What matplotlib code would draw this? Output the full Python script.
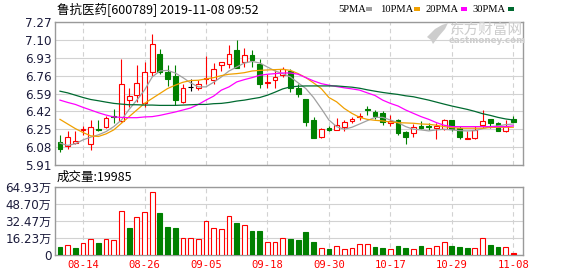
import matplotlib
matplotlib.use('Agg')
import matplotlib.pyplot as plt
from matplotlib.patches import Rectangle, Polygon
import numpy as np

plt.rcParams['font.family'] = ['DejaVu Sans', 'Noto Sans CJK SC']

# ---------------- data ----------------
dates = ['08-09', '08-12', '08-13', '08-14', '08-15', '08-16', '08-19', '08-20', '08-21', '08-22',
         '08-23', '08-26', '08-27', '08-28', '08-29', '08-30', '09-02', '09-03', '09-04', '09-05',
         '09-06', '09-09', '09-10', '09-11', '09-12', '09-16', '09-17', '09-18', '09-19', '09-20',
         '09-23', '09-24', '09-25', '09-26', '09-27', '09-30', '10-08', '10-09', '10-10', '10-11',
         '10-14', '10-15', '10-16', '10-17', '10-18', '10-21', '10-22', '10-23', '10-24', '10-25',
         '10-28', '10-29', '10-30', '10-31', '11-01', '11-04', '11-05', '11-06', '11-07', '11-08']

opens = [6.13, 6.09, 6.12, 6.24, 6.11, 6.25, 6.27, 6.38, 6.33, 6.53,
         6.58, 6.50, 6.79, 6.97, 6.79, 6.76, 6.51, 6.65, 6.64, 6.73,
         6.72, 6.86, 6.87, 7.00, 6.89, 6.96, 6.87, 6.69, 6.72, 6.77,
         6.80, 6.64, 6.54, 6.34, 6.18, 6.26, 6.24, 6.27, 6.33, 6.37,
         6.44, 6.41, 6.40, 6.31, 6.34, 6.22, 6.21, 6.28, 6.28, 6.26,
         6.25, 6.34, 6.26, 6.16, 6.17, 6.29, 6.35, 6.31, 6.23, 6.35]
highs = [6.20, 6.23, 6.23, 6.28, 6.34, 6.34, 6.38, 6.44, 6.92, 6.64,
         6.86, 6.89, 7.16, 7.01, 6.86, 6.86, 6.68, 6.73, 6.72, 6.95,
         6.88, 6.89, 7.05, 7.10, 7.02, 7.00, 6.92, 6.78, 6.81, 6.84,
         6.82, 6.68, 6.54, 6.37, 6.26, 6.28, 6.36, 6.34, 6.37, 6.40,
         6.47, 6.43, 6.42, 6.39, 6.35, 6.23, 6.30, 6.33, 6.31, 6.31,
         6.35, 6.34, 6.28, 6.23, 6.28, 6.43, 6.35, 6.32, 6.34, 6.38]
lows = [6.03, 6.06, 6.11, 6.20, 6.05, 6.23, 6.26, 6.31, 6.32, 6.46,
        6.51, 6.46, 6.76, 6.78, 6.66, 6.48, 6.50, 6.61, 6.62, 6.68,
        6.68, 6.80, 6.83, 6.83, 6.84, 6.84, 6.64, 6.64, 6.64, 6.75,
        6.60, 6.56, 6.28, 6.17, 6.17, 6.23, 6.24, 6.23, 6.31, 6.34,
        6.39, 6.35, 6.29, 6.28, 6.20, 6.11, 6.18, 6.25, 6.24, 6.16,
        6.24, 6.23, 6.16, 6.16, 6.16, 6.26, 6.26, 6.23, 6.22, 6.32]
closes = [6.06, 6.18, 6.14, 6.25, 6.27, 6.24, 6.36, 6.37, 6.68, 6.57,
          6.69, 6.79, 7.06, 6.79, 6.73, 6.53, 6.64, 6.65, 6.68, 6.74,
          6.82, 6.89, 6.97, 6.83, 6.96, 6.91, 6.68, 6.70, 6.75, 6.82,
          6.64, 6.59, 6.32, 6.17, 6.25, 6.24, 6.29, 6.32, 6.35, 6.38,
          6.43, 6.38, 6.32, 6.33, 6.21, 6.18, 6.27, 6.26, 6.27, 6.28,
          6.34, 6.25, 6.18, 6.17, 6.24, 6.33, 6.31, 6.23, 6.28, 6.32]

volumes = [7.3, 9.2, 6.6, 11.1, 14.9, 11.4, 14.9, 14.2, 42.3, 25.6,
           36.7, 41.4, 60.4, 39.8, 26.5, 25.6, 15.8, 15.8, 14.9, 32.9,
           26.2, 25.3, 37.6, 30.3, 29.1, 22.8, 22.8, 12.3, 12.3, 16.7,
           15.2, 14.2, 21.8, 12.3, 6.3, 5.4, 8.2, 5.4, 6.3, 10.1,
           10.1, 7.6, 6.6, 5.4, 8.5, 6.6, 5.4, 8.5, 6.3, 8.5,
           12.3, 8.5, 7.6, 6.6, 6.6, 16.7, 9.5, 7.6, 7.6, 2.0]  # 万

ma5 = [6.118, 6.096, 6.112, 6.149, 6.175, 6.197, 6.228, 6.275, 6.338, 6.439,
       6.527, 6.622, 6.747, 6.804, 6.810, 6.785, 6.741, 6.691, 6.653, 6.653,
       6.697, 6.747, 6.804, 6.842, 6.880, 6.895, 6.880, 6.842, 6.804, 6.779,
       6.747, 6.691, 6.637, 6.552, 6.448, 6.338, 6.275, 6.250, 6.269, 6.300,
       6.332, 6.363, 6.363, 6.338, 6.313, 6.275, 6.250, 6.244, 6.234, 6.244,
       6.250, 6.244, 6.237, 6.234, 6.237, 6.256, 6.275, 6.282, 6.294, 6.300]
ma10 = [6.344, 6.300, 6.256, 6.219, 6.187, 6.181, 6.206, 6.244, 6.307, 6.370,
        6.433, 6.496, 6.543, 6.590, 6.637, 6.669, 6.697, 6.713, 6.716, 6.729,
        6.741, 6.760, 6.773, 6.779, 6.788, 6.804, 6.810, 6.814, 6.817, 6.820,
        6.810, 6.779, 6.741, 6.691, 6.637, 6.552, 6.511, 6.448, 6.401, 6.363,
        6.344, 6.335, 6.329, 6.319, 6.313, 6.310, 6.307, 6.300, 6.297, 6.288,
        6.275, 6.266, 6.260, 6.260, 6.260, 6.260, 6.266, 6.269, 6.269, 6.269]
ma20 = [6.527, 6.505, 6.486, 6.458, 6.433, 6.407, 6.385, 6.367, 6.363, 6.360,
        6.360, 6.367, 6.370, 6.382, 6.398, 6.414, 6.433, 6.452, 6.486, 6.527,
        6.565, 6.622, 6.653, 6.700, 6.722, 6.741, 6.763, 6.773, 6.779, 6.785,
        6.785, 6.773, 6.741, 6.710, 6.684, 6.669, 6.656, 6.644, 6.634, 6.622,
        6.596, 6.571, 6.527, 6.496, 6.471, 6.433, 6.401, 6.370, 6.344, 6.313,
        6.288, 6.275, 6.275, 6.275, 6.275, 6.275, 6.275, 6.275, 6.275, 6.282]
ma30 = [6.612, 6.596, 6.574, 6.552, 6.533, 6.521, 6.508, 6.496, 6.489, 6.483,
        6.483, 6.480, 6.480, 6.477, 6.477, 6.477, 6.480, 6.483, 6.486, 6.486,
        6.493, 6.496, 6.505, 6.518, 6.527, 6.540, 6.552, 6.574, 6.603, 6.634,
        6.653, 6.659, 6.662, 6.662, 6.662, 6.662, 6.662, 6.656, 6.650, 6.640,
        6.625, 6.612, 6.600, 6.590, 6.581, 6.568, 6.559, 6.543, 6.527, 6.508,
        6.489, 6.471, 6.455, 6.439, 6.420, 6.398, 6.382, 6.363, 6.348, 6.338]

price_ticks = [5.91, 6.08, 6.25, 6.42, 6.59, 6.76, 6.93, 7.10, 7.27]
vol_ticks = [0, 16.23, 32.47, 48.70, 64.93]
vol_tick_labels = ['0', '16.23万', '32.47万', '48.70万', '64.93万']
tick_dates = ['08-14', '08-26', '09-05', '09-18', '09-30', '10-17', '10-29', '11-08']

title_text = '鲁抗医药[600789] 2019-11-08 09:52'
vol_title = '成交量:19985'
ma_labels = ['5PMA', '10PMA', '20PMA', '30PMA']

# ---------------- style ----------------
RED = '#ff0000'
GREEN = '#008000'
MA_COLORS = ['#a0a0a0', '#f0a000', '#ff00ff', '#006a30']
SPINE = '#9a9a9a'
GRID = '#d2d2d2'
LABEL = '#1c1c3c'
WM = '#cdcdcd'

W, H = 578, 276
fig = plt.figure(figsize=(W / 100, H / 100), dpi=100)
L, R = 55, 522.5
ax = fig.add_axes([L / W, 1 - 165 / H, (R - L) / W, (165 - 22) / H])
axv = fig.add_axes([L / W, 1 - 255 / H, (R - L) / W, (255 - 187) / H])

n = len(dates)
x = np.arange(n)
o = np.array(opens); c = np.array(closes); hi = np.array(highs); lo = np.array(lows)
tick_pos = [dates.index(d) for d in tick_dates]

cols = [RED if cc > oo else (GREEN if cc < oo else 'black') for oo, cc in zip(o, c)]
faces = ['white' if cc > oo else col for oo, cc, col in zip(o, c, cols)]

# watermark (behind the data)
fig.text(487 / W, 1 - 29.5 / H, '东方财富网', family=['Noto Sans CJK SC'], fontsize=10.5,
         color=WM, ha='center', va='center', zorder=0)
fig.text(487 / W, 1 - 40.5 / H, 'eastmoney.com', family='DejaVu Sans', fontsize=6.3,
         fontweight='bold', color=WM, ha='center', va='center', zorder=0)
logo = [(427, 37), (435, 29), (442, 25), (448, 23), (445, 29), (439, 36), (433, 44), (431, 40)]
fig.patches.append(Polygon([(px / W, 1 - py / H) for px, py in logo], closed=True,
                           transform=fig.transFigure, facecolor=WM, edgecolor='none',
                           figure=fig, zorder=0))
ax.patch.set_alpha(0)

# candles
ax.vlines(x, lo, hi, colors=cols, linewidth=0.8, zorder=3)
ax.bar(x, np.abs(c - o), bottom=np.minimum(o, c), width=0.62, color=faces,
       edgecolor=cols, linewidth=0.8, zorder=4)

for ma, col in zip([ma5, ma10, ma20, ma30], MA_COLORS):
    ax.plot(x, ma, color=col, linewidth=0.9, zorder=5)

ax.set_xlim(-0.65, 60.2)
ax.set_ylim(price_ticks[0], price_ticks[-1])
ax.set_yticks(price_ticks)
ax.set_yticklabels([f'{t:.2f}' for t in price_ticks])
ax.set_xticks(tick_pos)
ax.set_xticklabels([])

# volume
vol_up = [c[0] >= o[0]] + [c[i] > c[i - 1] for i in range(1, n)]
vcols = [RED if u else GREEN for u in vol_up]
vfaces = ['white' if u else GREEN for u in vol_up]
vfaces[-1] = vcols[-1]
axv.bar(x, volumes, width=0.62, color=vfaces, edgecolor=vcols, linewidth=0.8, zorder=3)
axv.set_xlim(-0.65, 60.2)
axv.set_ylim(vol_ticks[0], vol_ticks[-1])
axv.set_yticks(vol_ticks)
axv.set_yticklabels(vol_tick_labels)
axv.set_xticks(tick_pos)
axv.set_xticklabels(tick_dates, color=RED, family='DejaVu Sans Mono', fontsize=7.6)

for a in (ax, axv):
    a.tick_params(axis='both', length=0, pad=2.5)
    a.tick_params(axis='y', labelsize=8.6, labelcolor=LABEL)
    a.yaxis.grid(True, color=GRID, linewidth=0.8, linestyle='-', zorder=0)
    a.xaxis.grid(True, color=GRID, linewidth=0.8, linestyle=(0, (4, 3)), zorder=0)
    a.set_axisbelow(True)
    for s in a.spines.values():
        s.set_color(SPINE)
        s.set_linewidth(1.0)
axv.tick_params(axis='x', pad=3.5)

# texts
fig.text(57 / W, 1 - 9.5 / H, title_text, family=['Noto Sans CJK SC', 'DejaVu Sans'],
         fontsize=9, va='center', ha='left', color='black')
fig.text(57 / W, 1 - 177 / H, vol_title, family=['Noto Sans CJK SC', 'DejaVu Sans'],
         fontsize=9, va='center', ha='left', color='black')

# MA legend
lx = [338, 380, 425, 472]
mx = [366, 414, 461, 508]
for lab, col, tx, m in zip(ma_labels, MA_COLORS, lx, mx):
    fig.text(tx / W, 1 - 9.5 / H, lab, family='Liberation Serif', fontsize=7.6,
             va='center', ha='left', color='black')
    fig.patches.append(Rectangle((m / W, 1 - 10.5 / H), 5.5 / W, 3.5 / H,
                                 transform=fig.transFigure, facecolor=col,
                                 edgecolor='none', figure=fig))

fig.savefig('out.png', dpi=100)
